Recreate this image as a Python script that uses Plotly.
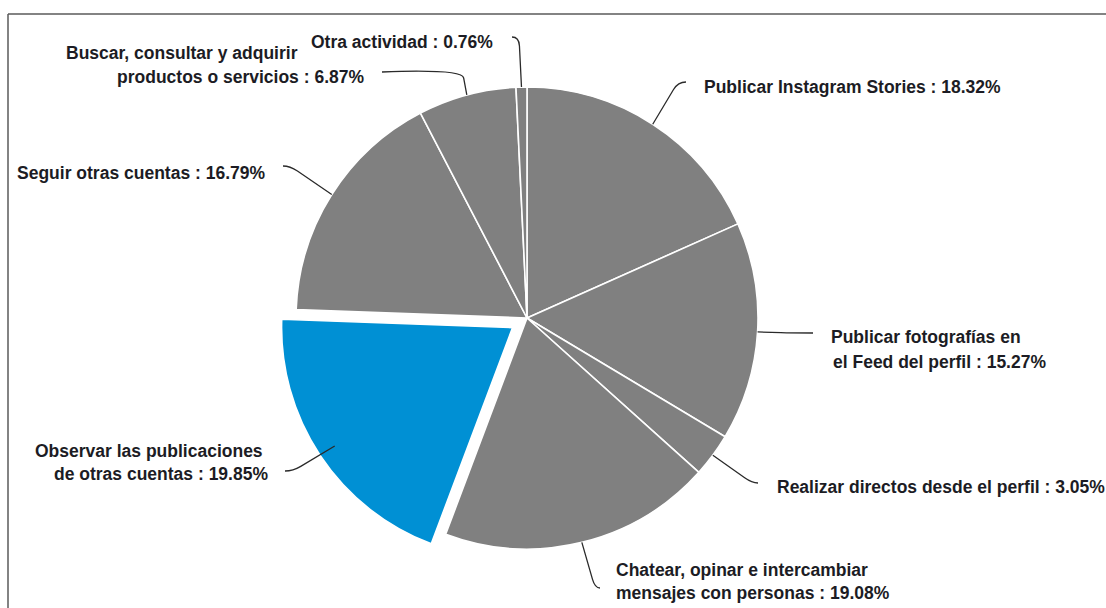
import math
import plotly.graph_objects as go

# Share of Instagram activities (percent), clockwise from 12 o'clock
categories = [
    "Publicar Instagram Stories",
    "Publicar fotografías en el Feed del perfil",
    "Realizar directos desde el perfil",
    "Chatear, opinar e intercambiar mensajes con personas",
    "Observar las publicaciones de otras cuentas",
    "Seguir otras cuentas",
    "Buscar, consultar y adquirir productos o servicios",
    "Otra actividad",
]
shares = [18.32, 15.27, 3.05, 19.08, 19.85, 16.79, 6.87, 0.76]

# How each category name wraps in its outside label
label_lines = [
    ["Publicar Instagram Stories"],
    ["Publicar fotografías en", "el Feed del perfil"],
    ["Realizar directos desde el perfil"],
    ["Chatear, opinar e intercambiar", "mensajes con personas"],
    ["Observar las publicaciones", "de otras cuentas"],
    ["Seguir otras cuentas"],
    ["Buscar, consultar y adquirir", "productos o servicios"],
    ["Otra actividad"],
]
highlight = "Observar las publicaciones de otras cuentas"

# ---- layout (pixels on a 1106 x 608 page) ----
W, H = 1106, 608
CX, CY, R = 527, 318, 231
PULL = 0.075
GREY, BLUE = "#808080", "#0090d4"
TEXT_COLOR = "#1c1c24"
LINE_COLOR = "#2a2a2a"
FONT = dict(family="Liberation Sans, Arial, sans-serif", size=17.5, color=TEXT_COLOR)

# label placement: side ("l" = text left-anchored, "r" = right-anchored),
# anchor point per text line, connector elbow and connector end
placement = [
    dict(side="l", lines=[(703, 87)], elbow=(678, 82), end=(686, 82)),
    dict(side="l", lines=[(830, 337), (832, 362)], elbow=(790, 333), end=(813, 333)),
    dict(side="l", lines=[(776, 487)], elbow=(752, 483), end=(758, 483)),
    dict(side="l", lines=[(615, 570), (615, 593)], elbow=(595, 588), end=(600, 588)),
    dict(side="r", lines=[(264, 451), (269, 474)], elbow=(293, 471), end=(285, 471)),
    dict(side="r", lines=[(266, 173)], elbow=(290, 166), end=(283, 166)),
    dict(side="r", lines=[(299, 53), (365, 77)], elbow=(462, 69), end=(382, 72)),
    dict(side="r", lines=[(494, 42)], elbow=(519, 37), end=(512, 37)),
]


def px(x):
    return x / W


def py(y):
    return 1 - y / H


colors = [BLUE if c == highlight else GREY for c in categories]
pulls = [PULL if c == highlight else 0 for c in categories]

box = 2 * R * (1 + PULL)
fig = go.Figure(
    go.Pie(
        labels=categories,
        values=shares,
        sort=False,
        direction="clockwise",
        rotation=0,
        pull=pulls,
        marker=dict(colors=colors, line=dict(color="white", width=1.6)),
        textinfo="none",
        hoverinfo="label+percent",
        showlegend=False,
        domain=dict(
            x=[(CX - box / 2) / W, (CX + box / 2) / W],
            y=[1 - (CY + box / 2) / H, 1 - (CY - box / 2) / H],
        ),
    )
)

shapes = []
annotations = []
total = sum(shares)
cum = 0.0
for cat, val, lines, pl in zip(categories, shares, label_lines, placement):
    theta = (cum + val / 2) / total * 2 * math.pi
    cum += val
    # connector starts on the pie rim at the slice's mid angle
    sx, sy = CX + R * math.sin(theta), CY - R * math.cos(theta)
    bx, by = pl["elbow"]
    ex, ey = pl["end"]
    dx, dy = sx - bx, sy - by
    d = math.hypot(dx, dy) or 1.0
    k = min(9.0, d * 0.5) / d
    qx, qy = bx + dx * k, by + dy * k
    path = (
        f"M {px(sx)},{py(sy)} L {px(qx)},{py(qy)} "
        f"Q {px(bx)},{py(by)} {px(ex)},{py(ey)}"
    )
    shapes.append(dict(type="path", xref="paper", yref="paper", path=path,
                       line=dict(color=LINE_COLOR, width=1.3), layer="above"))

    texts = list(lines)
    texts[-1] = f"{texts[-1]} : {val:.2f}%"
    for t, (lx, ly) in zip(texts, pl["lines"]):
        annotations.append(dict(
            text=f"<b>{t}</b>", x=px(lx), y=py(ly), xref="paper", yref="paper",
            xanchor="left" if pl["side"] == "l" else "right", yanchor="middle",
            showarrow=False, font=FONT, borderpad=0,
        ))

# chart frame (top and left edges visible on the page)
shapes.append(dict(type="line", xref="paper", yref="paper",
                   x0=px(8), y0=py(14), x1=1.01, y1=py(14),
                   line=dict(color="#5a5a5a", width=1.5)))
shapes.append(dict(type="line", xref="paper", yref="paper",
                   x0=px(8), y0=py(14), x1=px(8), y1=-0.01,
                   line=dict(color="#5a5a5a", width=1.5)))

fig.update_layout(
    width=W, height=H,
    margin=dict(l=0, r=0, t=0, b=0),
    paper_bgcolor="white", plot_bgcolor="white",
    shapes=shapes, annotations=annotations,
    font=FONT,
)

fig.write_html("out.html")
